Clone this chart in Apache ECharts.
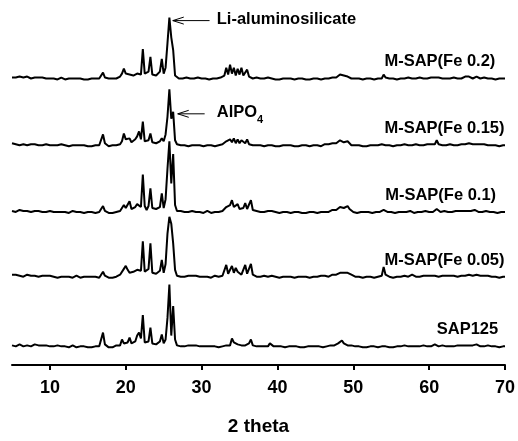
<!DOCTYPE html>
<html><head><meta charset="utf-8">
<script src="https://cdn.jsdelivr.net/npm/echarts@6/dist/echarts.min.js"></script>
<style>html,body{margin:0;padding:0;background:#fff}#c{width:518px;height:441px}</style>
</head><body><div id="c"></div>
<script>
// Scan: 2 theta from 5 to 70 deg, step 0.25 deg
const scanStart = 5, scanStep = 0.25;
const xTicks = [10, 20, 30, 40, 50, 60, 70];
const sampleNames = ['SAP125', 'M-SAP(Fe 0.05)', 'M-SAP(Fe 0.1)', 'M-SAP(Fe 0.15)', 'M-SAP(Fe 0.2)'];
// vertical stacking offsets of each pattern (a.u.)
const offsets = [18, 89, 155, 223, 291];

const sap125 = [
2,3,1,2,3,2,1,3,2,2,1,2,3,1,2,1,2,1,2,1,
1,2,1,1,2,0,1,2,1,1,0,1,2,1,0,1,1,0,1,1,
0,1,0,1,1,0,1,2,15,3,1,0,1,0,1,2,1,2,8,4,
3,5,10,4,3,6,12,15,9,33,5,3,6,20,4,2,3,4,6,13,
4,8,30,64,12,42,8,2,1,1,2,1,1,2,1,2,3,2,1,1,
1,1,2,1,0,1,2,1,1,0,1,1,1,2,1,2,9,5,6,3,
4,2,3,2,3,4,8,2,1,1,2,1,1,1,2,1,4,2,1,1,
1,0,1,1,0,1,1,0,1,0,1,1,0,1,0,1,1,0,1,1,
1,0,1,1,0,1,1,2,2,3,2,3,4,5,7,4,3,2,4,2,
1,1,0,1,1,0,1,0,1,1,0,1,1,0,1,1,0,1,1,0,
1,0,1,1,0,1,1,2,1,1,2,1,0,1,2,1,1,2,3,1,
2,1,1,3,2,1,1,2,1,1,0,1,2,1,1,2,1,2,1,2,
3,2,3,2,2,3,2,1,2,1,1,2,1,1,0,1,1,0,1,1,
1];

const fe005 = [
3,2,3,2,2,3,1,2,3,2,2,1,2,3,1,2,2,1,2,1,
2,1,1,2,0,1,1,2,1,0,1,1,0,1,2,1,0,1,1,0,
1,0,1,0,1,1,0,1,6,2,1,0,1,0,0,1,2,3,4,9,
12,8,5,4,6,8,8,6,7,37,6,4,9,35,5,3,4,4,7,18,
5,14,45,62,55,35,8,2,1,1,2,1,1,2,1,2,4,2,1,1,
1,1,0,1,1,0,1,2,1,1,1,2,3,13,4,6,12,5,10,6,
4,3,5,13,4,5,14,3,1,1,2,1,1,2,1,1,3,2,1,1,
1,0,1,1,0,1,0,1,1,0,1,1,0,1,0,1,1,0,1,1,
0,1,1,2,1,2,2,1,2,3,2,3,3,5,6,5,7,5,6,3,
1,1,0,1,1,0,1,1,0,1,1,0,1,1,0,2,11,3,1,1,
1,0,1,1,0,1,1,2,1,1,2,3,1,1,2,1,1,2,3,2,
4,2,3,2,2,1,1,2,1,2,1,2,3,2,1,1,2,2,1,2,
2,3,3,2,2,3,2,2,1,2,1,2,1,1,0,1,1,0,1,1,
1];

const fe01 = [
2,3,1,2,3,2,2,1,2,3,1,2,2,1,2,2,1,2,1,1,
2,1,1,0,1,2,1,0,1,1,0,1,2,1,1,0,1,1,0,1,
1,0,1,1,0,1,1,2,7,2,1,0,1,0,1,1,2,2,4,8,
5,6,12,4,5,6,9,8,6,39,7,3,7,25,5,3,4,4,6,20,
5,14,45,73,30,60,8,2,1,2,1,1,2,1,1,2,1,1,2,1,
1,0,1,2,1,0,1,1,0,1,1,2,3,6,4,8,13,6,5,9,
4,3,5,10,4,6,13,3,1,2,1,1,2,1,1,2,4,2,1,1,
1,0,1,1,0,1,1,0,1,1,0,1,1,0,1,0,1,1,0,1,
1,0,1,1,2,1,2,1,2,3,2,3,4,6,7,5,4,7,4,2,
1,1,0,1,1,2,1,0,1,1,0,1,1,2,1,1,3,1,1,0,
1,1,0,1,1,0,1,2,1,1,2,1,0,1,1,2,1,1,2,1,
1,2,1,2,4,2,1,1,2,1,1,2,1,1,2,1,2,3,2,1,
2,3,2,2,3,2,1,2,1,1,2,1,1,0,1,1,0,1,1,0,
1];

const fe015 = [
3,2,2,3,1,2,2,3,1,2,2,1,2,2,1,2,1,1,2,1,
1,2,1,0,1,1,2,0,1,1,0,1,1,0,1,2,1,0,1,1,
0,1,0,1,1,0,1,2,12,3,1,0,0,1,0,1,1,2,5,13,
7,5,8,4,5,7,10,15,7,25,5,3,6,13,4,2,3,3,5,8,
5,12,30,58,28,35,6,2,1,1,2,1,1,0,1,1,2,1,1,1,
1,0,1,1,0,1,1,0,1,1,1,2,3,5,3,7,4,8,3,7,
3,6,8,3,7,2,4,1,1,1,0,1,1,0,2,1,3,1,1,0,
1,0,1,1,0,1,0,1,1,0,1,0,1,1,0,1,1,0,1,1,
0,1,1,0,1,2,1,2,2,3,2,3,4,6,7,4,3,5,3,1,
1,1,0,1,1,0,1,0,1,1,0,1,0,1,1,2,1,1,0,1,
1,0,1,1,0,1,1,2,1,1,0,1,1,2,1,1,2,1,1,2,
1,2,1,2,6,2,1,1,2,1,1,2,1,1,2,1,2,2,1,2,
2,3,2,2,1,2,3,2,1,2,1,1,2,1,0,1,1,0,1,1,
1];

const fe02 = [
2,3,2,1,3,2,2,1,3,2,1,2,2,1,2,1,2,2,1,1,
1,2,1,1,0,1,2,1,0,1,1,0,1,2,1,0,1,1,0,1,
0,1,1,0,1,0,1,2,7,2,0,1,0,1,0,1,2,3,6,11,
6,8,5,3,4,5,6,8,5,31,6,4,8,23,5,3,4,5,8,21,
6,12,37,63,43,30,4,2,1,2,1,1,2,1,1,2,1,1,2,1,
1,0,1,1,0,1,1,2,1,1,2,3,4,12,5,15,6,12,4,11,
5,12,4,6,10,3,2,1,1,2,1,1,2,1,1,2,3,1,1,0,
1,0,1,1,0,1,0,1,1,0,1,1,0,1,1,0,1,0,1,1,
0,1,1,0,1,1,2,1,2,2,3,2,4,5,7,4,5,3,2,1,
1,1,0,1,1,0,1,1,0,1,1,0,1,1,0,1,5,2,1,1,
0,1,1,0,1,1,0,1,1,2,1,1,0,1,1,2,1,1,2,1,
1,2,1,2,4,2,1,1,0,1,2,1,1,2,1,1,2,1,2,3,
2,3,2,1,2,3,2,1,2,2,1,1,2,1,1,0,1,1,0,1,
1];

const patterns = [sap125, fe005, fe01, fe015, fe02];

// annotation anchors in data coordinates
const labelX = [61.0, 54.1, 54.2, 54.1, 54.1];
const labelRise = 18;
const peakNotes = [
  { text: 'Li-aluminosilicate', tip: 26.2, tail: 31.05, y: 351, textX: 32.0 },
  { text: 'AlPO', sub: '4', tip: 26.85, tail: 30.4, y: 256, textX: 32.0 }
];

const FONT = '"Liberation Sans", Arial, Helvetica, sans-serif';

const series = patterns.map((arr, i) => ({
  name: sampleNames[i],
  type: 'line',
  showSymbol: false,
  silent: true,
  animation: false,
  lineStyle: { color: '#000', width: 2 },
  data: arr.map((v, j) => [scanStart + j * scanStep, v + offsets[i]])
}));

const chart = echarts.init(document.getElementById('c'), null, { renderer: 'canvas' });
chart.setOption({
  animation: false,
  backgroundColor: '#fff',
  grid: { left: 12, right: 12, top: 0, bottom: 69 },
  xAxis: {
    type: 'value', min: 5, max: 70,
    axisLine: { show: true, onZero: false, lineStyle: { color: '#000', width: 2 } },
    axisTick: { show: true, customValues: xTicks, length: 5, lineStyle: { color: '#000', width: 2 } },
    axisLabel: { customValues: xTicks, color: '#000', fontSize: 18, fontWeight: 'bold', fontFamily: FONT, margin: 14 },
    splitLine: { show: false },
    name: '2 theta', nameLocation: 'middle', nameGap: 52,
    nameTextStyle: { color: '#000', fontSize: 19, fontWeight: 'bold', fontFamily: FONT }
  },
  yAxis: { type: 'value', min: 0, max: 372, show: false },
  series: series
});

const px = (x, y) => chart.convertToPixel({ gridIndex: 0 }, [x, y]);
const g = [];
sampleNames.forEach((n, i) => {
  const p = px(labelX[i], offsets[i] + labelRise);
  g.push({ type: 'text', x: p[0], y: p[1], silent: true,
    style: { text: n, fill: '#000', fontSize: 16.5, fontWeight: 'bold', fontFamily: FONT, align: 'left', verticalAlign: 'middle' } });
});
peakNotes.forEach(a => {
  const t = px(a.tip, a.y), e = px(a.tail, a.y);
  g.push({ type: 'polyline', silent: true, shape: { points: [[t[0], t[1]], [e[0], e[1]]] }, style: { stroke: '#000', lineWidth: 1, fill: null } });
  g.push({ type: 'polyline', silent: true, shape: { points: [[t[0] + 11, t[1] - 3.5], [t[0], t[1]], [t[0] + 11, t[1] + 3.5]] }, style: { stroke: '#000', lineWidth: 1, fill: null } });
  const tp = px(a.textX, a.y);
  const rich = {
    a: { fontSize: 16.5, fontWeight: 'bold', fontFamily: FONT, fill: '#000', lineHeight: 20, verticalAlign: 'top' },
    b: { fontSize: 11, fontWeight: 'bold', fontFamily: FONT, fill: '#000', lineHeight: 12, verticalAlign: 'top', padding: [11, 0, 0, 0] }
  };
  const txt = a.sub ? '{a|' + a.text + '}{b|' + a.sub + '}' : '{a|' + a.text + '}';
  g.push({ type: 'text', x: tp[0], y: tp[1] - 10, silent: true,
    style: { text: txt, rich: rich, align: 'left', verticalAlign: 'top' } });
});
chart.setOption({ graphic: g });
</script>
</body></html>
